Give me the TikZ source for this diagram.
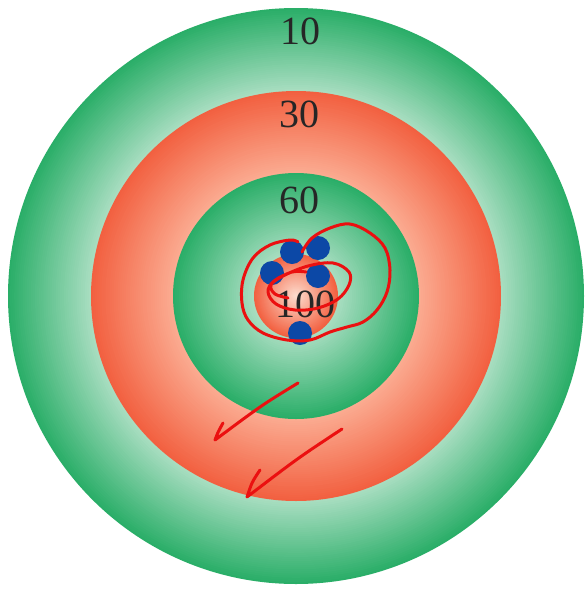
\documentclass[tikz,border=0pt]{standalone}
\usepackage{fontspec}
\setmainfont{Liberation Serif}
\usepackage{tikz}
\usetikzlibrary{positioning}
\definecolor{tgtGreenDark}{RGB}{42,174,104}
\definecolor{tgtGreenLight}{RGB}{170,222,194}
\definecolor{tgtRedDark}{RGB}{242,96,64}
\definecolor{tgtRedLight}{RGB}{251,172,146}
\definecolor{tgtCoreLight}{RGB}{253,222,208}
\definecolor{tgtBlue}{RGB}{12,72,166}
\definecolor{penRed}{RGB}{235,16,16}
\tikzset{
  score/.style={font=\fontsize{40}{42}\selectfont, text=black!85},
  hit/.style={circle, fill=tgtBlue, minimum size=24pt, inner sep=0pt},
  pen/.style={draw=penRed, line width=3pt, line cap=round, line join=round}
}
% ring from radius #1 (dark) down to #2 (light)
\newcommand{\gradedisc}[4]{%
  \foreach \k in {0,...,40}{%
    \pgfmathsetmacro{\rr}{#1-(#1-#2)*\k/40}%
    \pgfmathtruncatemacro{\mix}{100-2.5*\k}%
    \fill[#3!\mix!#4] (ctr) circle[radius=\rr pt];
  }}

\begin{document}
\begin{tikzpicture}[x=1pt,y=-1pt]
\useasboundingbox[fill=white] (0,0) rectangle (588,590);
\coordinate (ctr) at (296,296);

% target rings
\gradedisc{288}{205}{tgtGreenDark}{tgtGreenLight}
\gradedisc{205}{123}{tgtRedDark}{tgtRedLight}
\gradedisc{123}{42}{tgtGreenDark}{tgtGreenLight}
\gradedisc{42}{0}{tgtRedDark}{tgtCoreLight}

% scores
\node[score] (s10) at (300,31) {10};
\node[score] (s30) at (299,114) {30};
\node[score] (s60) at (299,200) {60};
\node[score] (s100) at (305,304) {100};

% hits
\node[hit] (h1) at (292,252) {};
\node[hit] (h2) at (318,248) {};
\node[hit] (h3) at (272,273) {};
\node[hit] (h4) at (318,276) {};
\node[hit] (h5) at (300,333) {};

% pen marks
\draw[pen] plot[smooth, tension=0.6] coordinates {(302,252) (312,238) (330,228) (350,224)
  (370,233) (385,248) (390,270) (387,292) (377,310) (363,322) (347,327) (330,332)
  (310,340) (287,340) (263,333) (248,320) (242,303) (243,280) (253,258) (270,245)
  (290,240) (298,242)};
\draw[pen] plot[smooth, tension=0.6] coordinates {(288,298) (275,294) (271,285) (283,276)
  (308,266) (333,263) (349,272) (349,285) (338,299) (318,308) (295,310) (276,304)
  (268,292) (274,281) (292,272) (306,272)};
\draw[pen] (298,383) .. controls (262,405) .. (215,440) .. controls (218,432) .. (223,423);
\draw[pen] (342,429) .. controls (298,458) .. (247,497) .. controls (252,482) .. (260,470);
\end{tikzpicture}
\end{document}
